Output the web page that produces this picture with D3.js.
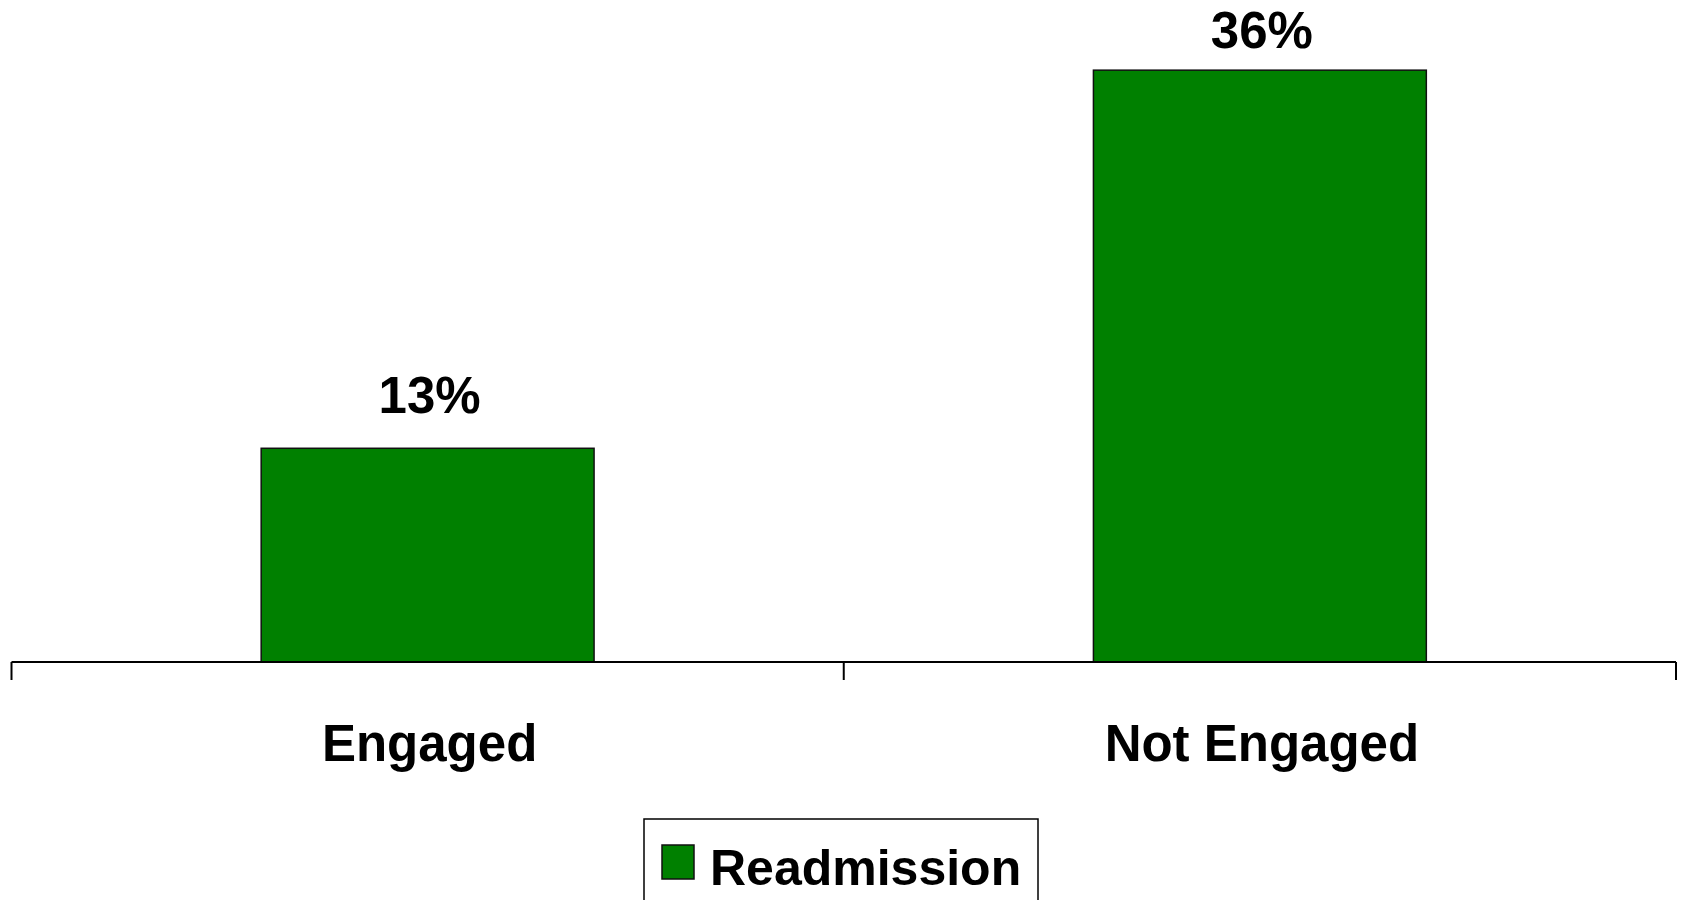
<!DOCTYPE html>
<html>
<head>
<meta charset="utf-8">
<script src="https://cdn.jsdelivr.net/npm/d3@7"></script>
<style>
  html, body { margin: 0; padding: 0; background: #fff; overflow: hidden; }
  svg { display: block; font-family: "Liberation Sans", Arial, sans-serif; font-weight: bold; }
</style>
</head>
<body>
<svg id="chart"></svg>
<script>
width = 1683;
height = 900;

// data
categories = ['Engaged', 'Not Engaged'];
readmission = [13, 36];
seriesName = 'Readmission';

barColor = '#008000';
axisY = 662;

const svg = d3.select('#chart')
	.attr('width', width)
	.attr('height', height);

const x = d3.scaleBand()
	.domain(categories)
	.range([11.5, 1676])
	.padding(0);

const y = d3.scaleLinear()
	.domain([0, 40])
	.range([axisY, 4.4]);

const barW = x.bandwidth() * 0.4;

// bars
svg.selectAll('rect.bar')
	.data(categories)
	.enter().append('rect')
		.attr('class', 'bar')
		.attr('x', d => x(d) + (x.bandwidth() - barW) / 2)
		.attr('y', (d, i) => y(readmission[i]))
		.attr('width', barW)
		.attr('height', (d, i) => y(0) - y(readmission[i]))
		.attr('fill', barColor)
		.attr('stroke', '#111')
		.attr('stroke-width', 1.5);

// value labels (top one is pushed down to stay on the page)
svg.selectAll('text.val')
	.data(categories)
	.enter().append('text')
		.attr('class', 'val')
		.attr('x', d => x(d) + x.bandwidth() / 2 + 2)
		.attr('y', (d, i) => Math.max(y(readmission[i]) - 35, 48))
		.attr('text-anchor', 'middle')
		.attr('font-size', 51)
		.text((d, i) => readmission[i] + '%');

// x axis line and ticks at band edges
svg.append('line')
	.attr('x1', x.range()[0]).attr('x2', x.range()[1])
	.attr('y1', axisY).attr('y2', axisY)
	.attr('stroke', '#000').attr('stroke-width', 2.2);

const tickXs = categories.map(d => x(d)).concat([x.range()[1]]);
svg.selectAll('line.tick')
	.data(tickXs)
	.enter().append('line')
		.attr('class', 'tick')
		.attr('x1', d => d).attr('x2', d => d)
		.attr('y1', axisY).attr('y2', axisY + 18)
		.attr('stroke', '#000').attr('stroke-width', 2);

// category labels
svg.selectAll('text.cat')
	.data(categories)
	.enter().append('text')
		.attr('class', 'cat')
		.attr('x', d => x(d) + x.bandwidth() / 2 + 2)
		.attr('y', 761)
		.attr('text-anchor', 'middle')
		.attr('font-size', 51)
		.text(d => d);

// legend
const leg = svg.append('g').attr('transform', 'translate(644, 819)');
leg.append('rect')
	.attr('width', 394).attr('height', 100)
	.attr('fill', '#fff')
	.attr('stroke', '#000').attr('stroke-width', 1.5);
leg.append('rect')
	.attr('x', 18).attr('y', 26)
	.attr('width', 32).attr('height', 34)
	.attr('fill', barColor)
	.attr('stroke', '#111').attr('stroke-width', 1.5);
leg.append('text')
	.attr('x', 66).attr('y', 66)
	.attr('font-size', 50)
	.text(seriesName);
</script>
</body>
</html>
